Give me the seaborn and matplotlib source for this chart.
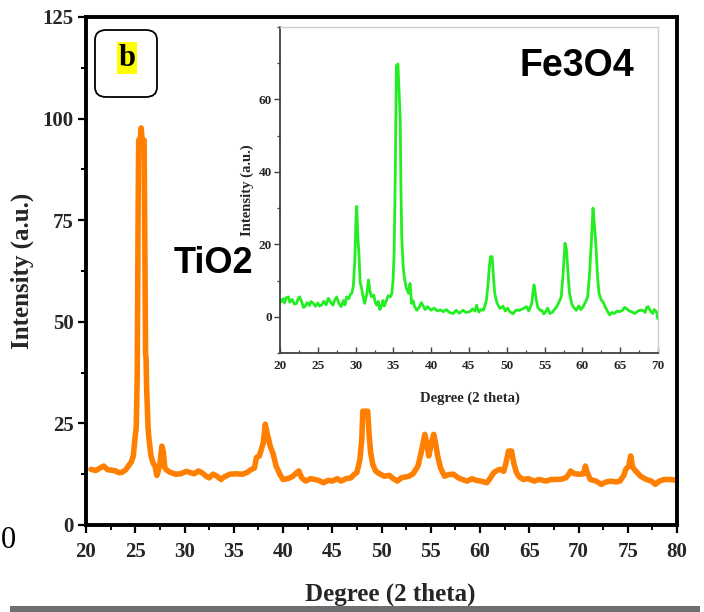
import numpy as np
import pandas as pd
import matplotlib
matplotlib.use("Agg")
import matplotlib.pyplot as plt
import seaborn as sns
from matplotlib.patches import FancyBboxPatch, Rectangle
from matplotlib.ticker import MultipleLocator, FixedLocator

# ---------------- data ----------------
tio2_deg = [20.5, 21.0, 21.4, 21.8, 22.2, 22.6, 23.0, 23.3, 23.6, 24.0, 24.3, 24.6, 24.8, 25.0, 25.1,
            25.2, 25.3, 25.35, 25.5, 25.6, 25.7, 25.9, 26.0, 26.05, 26.1, 26.15, 26.3, 26.4, 26.6, 26.8,
            27.0, 27.2, 27.3, 27.5, 27.7, 27.85, 28.0, 28.1, 28.5, 29.1, 29.6, 30.2, 30.7, 31.0, 31.4,
            31.8, 32.2, 32.5, 32.9, 33.3, 33.7, 34.0, 34.6, 35.2, 35.9, 36.4, 36.8, 37.1, 37.3, 37.6,
            38.0, 38.2, 38.4, 38.7, 39.0, 39.3, 39.7, 40.0, 40.5, 41.0, 41.4, 41.6, 41.9, 42.3, 42.8,
            43.2, 43.6, 44.1, 44.6, 45.0, 45.5, 45.9, 46.4, 46.9, 47.2, 47.5, 47.8, 48.0, 48.1, 48.6,
            48.75, 48.9, 49.1, 49.4, 49.8, 50.3, 50.8, 51.2, 51.6, 52.0, 52.4, 52.8, 53.2, 53.7, 54.0,
            54.4, 54.6, 54.8, 55.05, 55.3, 55.5, 55.7, 56.0, 56.4, 56.8, 57.3, 57.8, 58.2, 58.7, 59.2,
            59.6, 60.1, 60.7, 61.0, 61.4, 61.8, 62.1, 62.4, 62.6, 62.9, 63.2, 63.45, 63.7, 64.0, 64.4,
            64.9, 65.5, 66.0, 66.7, 67.2, 67.8, 68.3, 68.7, 69.0, 69.2, 69.6, 70.1, 70.5, 70.7, 70.9,
            71.2, 71.8, 72.3, 72.8, 73.3, 73.8, 74.2, 74.6, 74.8, 75.1, 75.3, 75.5, 75.8, 76.3, 76.9,
            77.4, 77.8, 78.2, 78.7, 79.3, 79.9]
tio2_int = [13.7, 13.4, 14.0, 14.5, 13.6, 13.5, 13.3, 12.9, 12.9, 13.5, 14.5, 15.5, 17.0, 21.9, 24.0,
            36.6, 80.0, 94.7, 94.7, 97.7, 94.7, 94.7, 58.0, 42.0, 41.0, 34.0, 24.0, 21.0, 17.0, 15.3,
            14.5, 12.2, 12.9, 15.0, 19.4, 18.0, 14.2, 13.7, 13.0, 12.5, 12.6, 13.2, 12.8, 12.6, 13.3,
            12.8, 12.0, 11.6, 12.5, 12.0, 11.2, 11.8, 12.5, 12.6, 12.5, 13.0, 13.7, 14.0, 16.6, 17.0,
            20.2, 24.8, 22.5, 19.4, 17.5, 14.5, 12.4, 11.2, 11.4, 12.0, 12.9, 13.3, 11.6, 10.8, 11.4,
            11.2, 11.0, 10.4, 11.0, 10.8, 11.4, 10.8, 11.4, 11.6, 12.4, 12.9, 16.0, 21.0, 28.0, 28.0,
            22.0, 17.8, 15.0, 13.3, 12.6, 12.0, 12.2, 11.4, 10.8, 11.6, 11.8, 12.0, 12.6, 14.5, 17.5,
            22.3, 20.0, 17.0, 20.0, 22.3, 20.0, 17.0, 14.0, 12.0, 12.4, 12.5, 11.6, 11.2, 10.8, 11.4,
            11.0, 10.8, 10.4, 11.4, 12.9, 13.5, 13.7, 13.2, 14.9, 18.2, 18.2, 15.0, 12.9, 11.8, 11.2,
            11.4, 10.8, 11.2, 10.8, 11.2, 11.2, 11.3, 11.6, 12.4, 13.3, 12.6, 12.5, 12.6, 14.5, 12.8,
            11.2, 10.8, 10.0, 10.6, 10.8, 10.6, 10.8, 12.2, 13.7, 14.5, 17.0, 14.2, 13.3, 12.0, 11.2,
            10.8, 10.0, 10.8, 11.2, 11.2, 11.0]

fe3o4_deg = [20.0, 20.2, 20.4, 20.6, 20.8, 21.1, 21.3, 21.6, 21.9, 22.2, 22.4, 22.6, 22.9, 23.1, 23.3,
             23.6, 23.9, 24.1, 24.4, 24.7, 25.0, 25.2, 25.5, 25.8, 26.1, 26.4, 26.7, 27.0, 27.2, 27.5,
             27.8, 28.1, 28.4, 28.6, 28.8, 29.1, 29.3, 29.5, 29.7, 29.9, 30.05, 30.15, 30.3, 30.45, 30.6,
             30.8, 31.0, 31.2, 31.5, 31.7, 31.9, 32.1, 32.4, 32.6, 32.8, 33.0, 33.2, 33.4, 33.6, 33.8,
             34.1, 34.3, 34.6, 34.8, 34.95, 35.1, 35.25, 35.4, 35.6, 35.75, 35.9, 36.0, 36.1, 36.3, 36.5,
             36.7, 37.0, 37.2, 37.4, 37.6, 37.8, 38.1, 38.4, 38.7, 38.9, 39.2, 39.5, 39.8, 40.0, 40.4,
             40.8, 41.2, 41.6, 42.0, 42.4, 42.9, 43.3, 43.7, 44.2, 44.6, 45.1, 45.5, 45.8, 46.0, 46.3,
             46.6, 46.9, 47.1, 47.3, 47.5, 47.7, 47.85, 48.05, 48.2, 48.4, 48.7, 49.1, 49.5, 49.8, 50.1,
             50.4, 50.8, 51.2, 51.7, 52.1, 52.6, 52.9, 53.1, 53.3, 53.45, 53.6, 53.75, 53.9, 54.1, 54.4,
             54.6, 54.9, 55.2, 55.4, 55.7, 56.0, 56.3, 56.6, 56.9, 57.2, 57.45, 57.7, 57.9, 58.1, 58.3,
             58.6, 58.9, 59.2, 59.5, 59.8, 60.1, 60.4, 60.7, 60.95, 61.2, 61.4, 61.6, 61.8, 62.0, 62.2,
             62.5, 62.8, 63.0, 63.3, 63.6, 63.9, 64.2, 64.6, 64.9, 65.3, 65.6, 65.8, 66.2, 66.6, 66.9,
             67.3, 67.6, 68.0, 68.3, 68.5, 68.7, 69.0, 69.3, 69.5, 69.8, 69.95]
fe3o4_int = [4.5, 4.2, 5.0, 3.8, 5.2, 5.5, 4.0, 4.8, 3.5, 3.7, 5.0, 5.5, 3.9, 2.6, 2.8,
             3.9, 3.1, 4.2, 3.7, 2.9, 3.8, 3.0, 3.2, 4.3, 3.3, 5.1, 4.0, 3.2, 4.4, 5.5,
             3.6, 2.8, 4.5, 3.3, 5.5, 5.0, 6.2, 6.5, 8.5, 15.7, 27.0, 30.5, 22.0, 17.0, 9.5,
             7.8, 5.5, 3.7, 6.5, 10.2, 7.0, 5.5, 6.0, 4.0, 3.2, 4.2, 2.0, 2.8, 4.5, 3.0,
             4.6, 5.8, 5.5, 6.5, 10.0, 17.6, 40.0, 69.3, 69.8, 62.0, 54.5, 35.0, 22.2, 13.5, 10.2,
             8.0, 6.5, 9.2, 3.7, 4.4, 2.8, 1.8, 2.6, 3.9, 3.2, 2.0, 2.8, 2.2, 1.8, 2.4,
             1.6, 1.9, 1.4, 2.0, 1.2, 0.9, 1.8, 1.0, 1.8, 1.2, 1.4, 2.2, 1.6, 3.2, 1.3,
             2.0, 1.8, 3.0, 4.6, 8.5, 14.0, 16.6, 16.6, 12.0, 6.5, 3.8, 2.3, 2.9, 1.6, 2.4,
             1.4, 0.8, 1.8, 1.8, 2.2, 2.8, 1.6, 2.6, 3.7, 6.5, 8.8, 6.8, 4.6, 2.6, 1.8,
             1.8, 0.8, 1.6, 2.4, 0.9, 1.2, 2.0, 2.8, 4.0, 5.5, 12.0, 20.3, 18.5, 12.0, 6.5,
             3.5, 2.4, 1.8, 3.0, 2.0, 2.8, 4.0, 5.5, 12.0, 21.3, 30.0, 25.0, 19.4, 11.0, 6.5,
             4.6, 3.9, 2.8, 1.6, 0.5, 1.2, 0.9, 1.6, 1.4, 1.8, 2.6, 2.3, 1.6, 1.3, 0.9,
             1.5, 1.8, 1.8, 1.2, 2.6, 2.8, 1.6, 0.9, 2.0, 1.4, -0.5]

main_xticks = [20, 25, 30, 35, 40, 45, 50, 55, 60, 65, 70, 75, 80]
main_yticks = [0, 25, 50, 75, 100, 125]
inset_xticks = [20, 25, 30, 35, 40, 45, 50, 55, 60, 65, 70]
inset_yticks = [0, 20, 40, 60]

tio2 = pd.DataFrame({"deg": tio2_deg, "intensity": tio2_int})
fe3o4 = pd.DataFrame({"deg": fe3o4_deg, "intensity": fe3o4_int})

# ---------------- style ----------------
sns.set_style("ticks")
plt.rcParams["font.family"] = ["Liberation Serif", "DejaVu Serif"]
plt.rcParams["font.weight"] = "bold"

W, H = 704, 612
fig = plt.figure(figsize=(W / 100, H / 100), dpi=100)
fig.patch.set_facecolor("white")

def fx(px):
    return px / W

def fy(py):
    return 1 - py / H

# main axes: x 86..677, y 17..525 (pixels)
ax = fig.add_axes([fx(86), fy(525), fx(677) - fx(86), fy(17) - fy(525)])
sns.lineplot(data=tio2, x="deg", y="intensity", ax=ax, color="#ff8000",
             linewidth=4.0, sort=False, estimator=None, solid_joinstyle="round")
ax.set_xlim(20, 80)
ax.set_ylim(0, 125)
ax.xaxis.set_major_locator(FixedLocator(main_xticks))
ax.yaxis.set_major_locator(FixedLocator(main_yticks))
ax.xaxis.set_minor_locator(MultipleLocator(2.5))
ax.yaxis.set_minor_locator(MultipleLocator(12.5))
for s in ax.spines.values():
    s.set_visible(True)
    s.set_linewidth(2.8)
    s.set_color("black")
ax.tick_params(axis="both", which="major", direction="out", length=6, width=1.6,
               labelsize=15, color="black")
ax.tick_params(axis="both", which="minor", direction="out", length=3.5, width=1.4, color="black")
ax.tick_params(axis="x", which="major", pad=6)
ax.tick_params(axis="y", which="major", pad=3)
for lab in ax.get_xticklabels() + ax.get_yticklabels():
    lab.set_fontweight("bold")
ax.set_xlabel("Degree (2 theta)", fontsize=18, fontweight="bold", va="center")
ax.set_ylabel("Intensity (a.u.)", fontsize=18, fontweight="bold", va="center")
ax.xaxis.set_label_coords(0.514, -0.136)
ax.yaxis.set_label_coords(-0.108, 0.5)

ax.text(0.215, 0.515, "TiO2", transform=ax.transAxes, ha="center", va="center",
        fontsize=26, fontweight="bold", family=["Liberation Sans", "DejaVu Sans"], color="black")

# inset axes: x 280..658, y 27..353
ins = fig.add_axes([fx(280), fy(353), fx(658) - fx(280), fy(27) - fy(353)])
sns.lineplot(data=fe3o4, x="deg", y="intensity", ax=ins, color="#22ee22",
             linewidth=2.0, sort=False, estimator=None)
ins.set_xlim(20, 70)
ins.set_ylim(-10, 80)
ins.xaxis.set_major_locator(FixedLocator(inset_xticks))
ins.yaxis.set_major_locator(FixedLocator(inset_yticks))
ins.xaxis.set_minor_locator(MultipleLocator(2.5))
ins.yaxis.set_minor_locator(MultipleLocator(10))
ins.spines["left"].set_color("#404040")
ins.spines["bottom"].set_color("#404040")
ins.spines["left"].set_linewidth(1.3)
ins.spines["bottom"].set_linewidth(1.3)
ins.spines["top"].set_visible(True)
ins.spines["right"].set_visible(True)
ins.spines["top"].set_color("#cfcfcf")
ins.spines["right"].set_color("#cfcfcf")
ins.spines["top"].set_linewidth(1.0)
ins.spines["right"].set_linewidth(1.0)
ins.tick_params(axis="x", which="major", direction="in", length=4, width=1.0, labelsize=9.5,
                pad=5, color="#404040")
ins.tick_params(axis="x", which="minor", direction="in", length=2.5, width=0.9, color="#404040")
ins.tick_params(axis="y", which="major", direction="out", length=4, width=1.0, labelsize=9.5,
                pad=2, color="#404040")
ins.tick_params(axis="y", which="minor", direction="out", length=2.5, width=0.9, color="#404040")
for lab in ins.get_xticklabels() + ins.get_yticklabels():
    lab.set_fontweight("bold")
ins.set_xlabel("Degree (2 theta)", fontsize=10.5, fontweight="bold", va="center")
ins.set_ylabel("Intensity (a.u.)", fontsize=10.5, fontweight="bold", va="center")
ins.xaxis.set_label_coords(0.503, -0.138)
ins.yaxis.set_label_coords(-0.087, 0.498)
ins.text(0.785, 0.88, "Fe3O4", transform=ins.transAxes, ha="center", va="center",
         fontsize=27, fontweight="bold", family=["Liberation Sans", "DejaVu Sans"], color="black")

# panel tag box "b"
box = FancyBboxPatch((fx(95), fy(97)), fx(157) - fx(95), fy(30) - fy(97),
                     boxstyle="round,pad=0,rounding_size=0.016", transform=fig.transFigure,
                     facecolor="white", edgecolor="black", linewidth=1.3, zorder=5)
fig.add_artist(box)
fig.text(fx(127), fy(58), "b", ha="center", va="center", fontsize=22, fontweight="bold",
         color="black", zorder=6,
         bbox=dict(boxstyle="square,pad=0.05", facecolor="#ffff00", edgecolor="none"))

# stray mark from the source image (kept fully inside the canvas)
fig.text(fx(1), fy(541), "0", ha="left", va="center", fontsize=22, fontweight="normal",
         color="black")
fig.add_artist(Rectangle((fx(10), 0), fx(700) - fx(10), 6 / H, transform=fig.transFigure,
                         facecolor="#6e6e6e", edgecolor="none"))

fig.savefig("out.png", dpi=100)
